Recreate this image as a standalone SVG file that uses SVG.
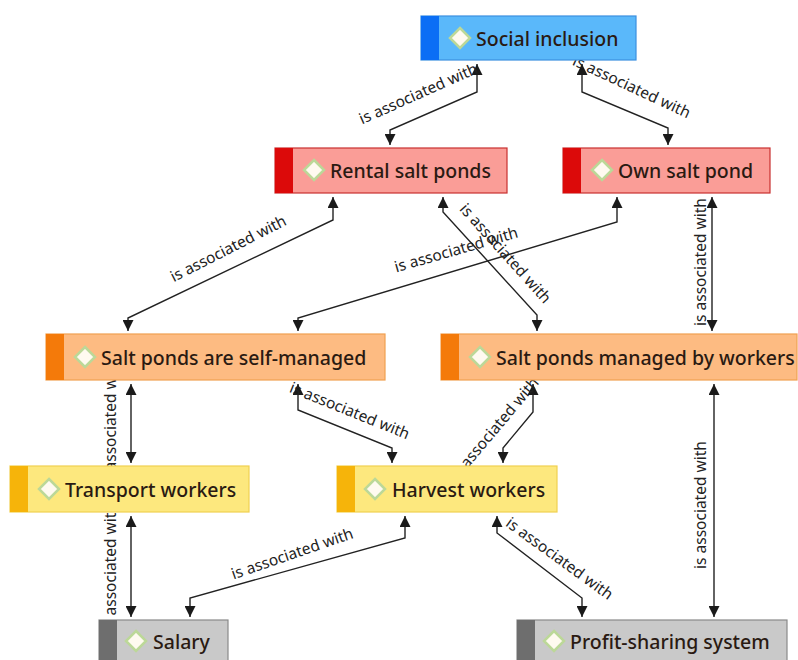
<svg xmlns="http://www.w3.org/2000/svg" width="798" height="660" viewBox="0 0 798 660">
  <defs>
    <marker id="arrow" viewBox="0 0 10 10" refX="10" refY="5" markerWidth="11" markerHeight="11" markerUnits="userSpaceOnUse" orient="auto-start-reverse">
      <path d="M0,0 L10,5 L0,10 z" fill="#1a1a1a"/>
    </marker>
    <style>
      .edge { fill: none; stroke: #222; stroke-width: 1.4; marker-start: url(#arrow); marker-end: url(#arrow); }
      .lbl { font-family: "Noto Sans", "Open Sans", sans-serif; font-size: 15.5px; fill: #222; text-anchor: middle; dominant-baseline: central; }
      .name { font-family: "Noto Sans", "Open Sans", sans-serif; font-size: 19.5px; font-weight: 500; fill: #2a1a12; dominant-baseline: central; }
      .icon { fill: #fffaf0; stroke: #bcd898; stroke-width: 2.5; }
      .blue rect.body { fill: #5ab8fa; stroke: #3b8fe0; }
      .blue rect.bar { fill: #0b6ef5; }
      .red rect.body { fill: #fa9d97; stroke: #c83030; }
      .red rect.bar { fill: #dc0a0a; }
      .orange rect.body { fill: #fdbb82; stroke: #f0a050; }
      .orange rect.bar { fill: #f47a0a; }
      .yellow rect.body { fill: #fde87e; stroke: #f0d050; }
      .yellow rect.bar { fill: #f6b40a; }
      .gray rect.body { fill: #c9c9c9; stroke: #8a8a8a; }
      .gray rect.bar { fill: #6e6e6e; }
      rect.body { stroke-width: 1.2; }
    </style>
  </defs>

  <rect width="798" height="660" fill="#ffffff"/>

  <!-- connectors and their labels -->
  <g id="connectors">
    <path class="edge" d="M477,64 V92 L390,130 V145"/>
    <text class="lbl" transform="translate(418,93) rotate(-24)">is associated with</text>

    <path class="edge" d="M582,64 V92 L668,128 V145"/>
    <text class="lbl" transform="translate(632,86) rotate(25)">is associated with</text>

    <path class="edge" d="M333,197 V220 L128,318 V331"/>
    <text class="lbl" transform="translate(228,248) rotate(-27)">is associated with</text>

    <path class="edge" d="M617,197 V222 L298,318 V331"/>
    <text class="lbl" transform="translate(456,249) rotate(-16)">is associated with</text>

    <path class="edge" d="M443,197 V212 L537,315 V331"/>
    <text class="lbl" transform="translate(506,253) rotate(48)">is associated with</text>

    <path class="edge" d="M712,197 V331"/>
    <text class="lbl" transform="translate(700,262) rotate(-90)">is associated with</text>

    <path class="edge" d="M131,384 V463"/>
    <text class="lbl" transform="translate(110,422) rotate(-90)">is associated with</text>

    <path class="edge" d="M298,384 V410 L392,448 V463"/>
    <text class="lbl" transform="translate(350,410) rotate(22)">is associated with</text>

    <path class="edge" d="M533,384 V412 L503,448 V463"/>
    <text class="lbl" transform="translate(494,428) rotate(-50)">is associated with</text>

    <path class="edge" d="M131,516 V617"/>
    <text class="lbl" transform="translate(110,567) rotate(-90)">is associated with</text>

    <path class="edge" d="M405,516 V538 L190,598 V617"/>
    <text class="lbl" transform="translate(292,553) rotate(-19)">is associated with</text>

    <path class="edge" d="M497,516 V533 L582,598 V617"/>
    <text class="lbl" transform="translate(560,558) rotate(36)">is associated with</text>

    <path class="edge" d="M714,384 V617"/>
    <text class="lbl" transform="translate(700,505) rotate(-90)">is associated with</text>
  </g>

  <!-- nodes -->
  <g id="social-inclusion" class="blue">
    <rect class="body" x="421" y="16" width="215" height="44"/>
    <rect class="bar" x="421" y="16" width="18" height="44"/>
    <path class="icon" d="M460,28 L470,38 L460,48 L450,38 z"/>
    <text class="name" x="476" y="38">Social inclusion</text>
  </g>

  <g id="rental-salt-ponds" class="red">
    <rect class="body" x="275" y="148" width="232" height="45"/>
    <rect class="bar" x="275" y="148" width="18" height="45"/>
    <path class="icon" d="M314,160 L324,170 L314,180 L304,170 z"/>
    <text class="name" x="330" y="170">Rental salt ponds</text>
  </g>

  <g id="own-salt-pond" class="red">
    <rect class="body" x="563" y="148" width="207" height="45"/>
    <rect class="bar" x="563" y="148" width="18" height="45"/>
    <path class="icon" d="M602,160 L612,170 L602,180 L592,170 z"/>
    <text class="name" x="618" y="170">Own salt pond</text>
  </g>

  <g id="self-managed" class="orange">
    <rect class="body" x="46" y="334" width="339" height="46"/>
    <rect class="bar" x="46" y="334" width="18" height="46"/>
    <path class="icon" d="M85,347 L95,357 L85,367 L75,357 z"/>
    <text class="name" x="101" y="357">Salt ponds are self-managed</text>
  </g>

  <g id="managed-by-workers" class="orange">
    <rect class="body" x="441" y="334" width="356" height="46"/>
    <rect class="bar" x="441" y="334" width="18" height="46"/>
    <path class="icon" d="M480,347 L490,357 L480,367 L470,357 z"/>
    <text class="name" x="496" y="357">Salt ponds managed by workers</text>
  </g>

  <g id="transport-workers" class="yellow">
    <rect class="body" x="10" y="466" width="239" height="46"/>
    <rect class="bar" x="10" y="466" width="18" height="46"/>
    <path class="icon" d="M49,479 L59,489 L49,499 L39,489 z"/>
    <text class="name" x="65" y="489">Transport workers</text>
  </g>

  <g id="harvest-workers" class="yellow">
    <rect class="body" x="337" y="466" width="220" height="46"/>
    <rect class="bar" x="337" y="466" width="18" height="46"/>
    <path class="icon" d="M375,479 L385,489 L375,499 L365,489 z"/>
    <text class="name" x="392" y="489">Harvest workers</text>
  </g>

  <g id="salary" class="gray">
    <rect class="body" x="99" y="620" width="129" height="46"/>
    <rect class="bar" x="99" y="620" width="18" height="46"/>
    <path class="icon" d="M136,631 L146,641 L136,651 L126,641 z"/>
    <text class="name" x="153" y="641">Salary</text>
  </g>

  <g id="profit-sharing" class="gray">
    <rect class="body" x="517" y="620" width="270" height="46"/>
    <rect class="bar" x="517" y="620" width="18" height="46"/>
    <path class="icon" d="M554,631 L564,641 L554,651 L544,641 z"/>
    <text class="name" x="570" y="641">Profit-sharing system</text>
  </g>
</svg>
